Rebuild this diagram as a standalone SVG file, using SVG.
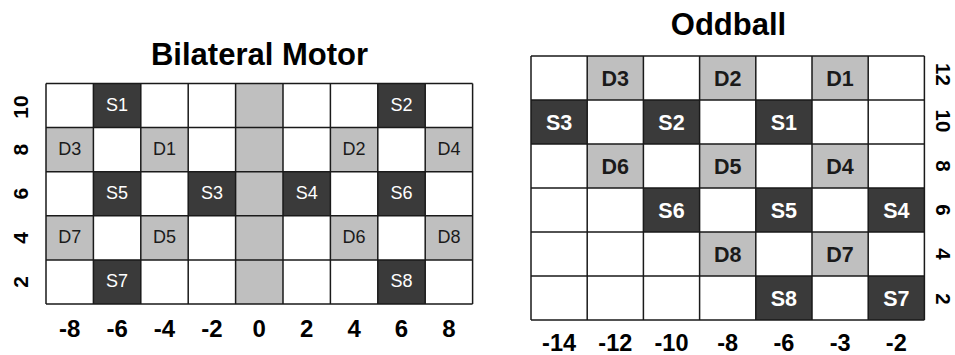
<svg xmlns="http://www.w3.org/2000/svg" width="955" height="355" viewBox="0 0 955 355">
<style>
  text { font-family: "Liberation Sans", Arial, sans-serif; text-anchor: middle; }
  .title { font-size: 31px; font-weight: bold; fill: #000; }
  .dark { fill: #3a3a3a; }
  .gray { fill: #bfbfbf; }
  .bg { fill: #ffffff; }
  .grid { fill: none; stroke: #1a1a1a; stroke-width: 1.5; }
  .bl { font-size: 18px; }
  .bl.w { fill: #ffffff; }
  .bl.k { fill: #1a1a1a; }
  .ol { font-size: 21.5px; font-weight: bold; }
  .ol.w { fill: #ffffff; }
  .ol.k { fill: #1a1a1a; }
  .axL { font-size: 21px; font-weight: bold; fill: #000; }
  .axR { font-size: 20.5px; font-weight: bold; fill: #000; }
  .axB1 { font-size: 24px; font-weight: bold; fill: #000; }
  .axB2 { font-size: 23.5px; font-weight: bold; fill: #000; }
</style>
<rect width="955" height="355" fill="#ffffff"/>

<!-- Bilateral Motor -->
<g id="bilateral">
  <text class="title" x="259.5" y="65">Bilateral Motor</text>
  <rect class="bg" x="46" y="83.5" width="426.6" height="220.5"/>
  <rect class="gray" x="235.6" y="83.5" width="47.4" height="220.5"/>
  <g id="b-S1"><rect class="dark" x="93.4" y="83.5" width="47.4" height="44.1"/><text class="bl w" x="117.1" y="110.6">S1</text></g>
  <g id="b-S2"><rect class="dark" x="377.8" y="83.5" width="47.4" height="44.1"/><text class="bl w" x="401.5" y="110.6">S2</text></g>
  <g id="b-D3"><rect class="gray" x="46" y="127.6" width="47.4" height="44.1"/><text class="bl k" x="69.7" y="154.7">D3</text></g>
  <g id="b-D1"><rect class="gray" x="140.8" y="127.6" width="47.4" height="44.1"/><text class="bl k" x="164.5" y="154.7">D1</text></g>
  <g id="b-D2"><rect class="gray" x="330.4" y="127.6" width="47.4" height="44.1"/><text class="bl k" x="354.1" y="154.7">D2</text></g>
  <g id="b-D4"><rect class="gray" x="425.2" y="127.6" width="47.4" height="44.1"/><text class="bl k" x="448.9" y="154.7">D4</text></g>
  <g id="b-S5"><rect class="dark" x="93.4" y="171.7" width="47.4" height="44.1"/><text class="bl w" x="117.1" y="198.8">S5</text></g>
  <g id="b-S3"><rect class="dark" x="188.2" y="171.7" width="47.4" height="44.1"/><text class="bl w" x="211.9" y="198.8">S3</text></g>
  <g id="b-S4"><rect class="dark" x="283" y="171.7" width="47.4" height="44.1"/><text class="bl w" x="306.7" y="198.8">S4</text></g>
  <g id="b-S6"><rect class="dark" x="377.8" y="171.7" width="47.4" height="44.1"/><text class="bl w" x="401.5" y="198.8">S6</text></g>
  <g id="b-D7"><rect class="gray" x="46" y="215.8" width="47.4" height="44.1"/><text class="bl k" x="69.7" y="242.9">D7</text></g>
  <g id="b-D5"><rect class="gray" x="140.8" y="215.8" width="47.4" height="44.1"/><text class="bl k" x="164.5" y="242.9">D5</text></g>
  <g id="b-D6"><rect class="gray" x="330.4" y="215.8" width="47.4" height="44.1"/><text class="bl k" x="354.1" y="242.9">D6</text></g>
  <g id="b-D8"><rect class="gray" x="425.2" y="215.8" width="47.4" height="44.1"/><text class="bl k" x="448.9" y="242.9">D8</text></g>
  <g id="b-S7"><rect class="dark" x="93.4" y="259.9" width="47.4" height="44.1"/><text class="bl w" x="117.1" y="287">S7</text></g>
  <g id="b-S8"><rect class="dark" x="377.8" y="259.9" width="47.4" height="44.1"/><text class="bl w" x="401.5" y="287">S8</text></g>
  <path class="grid" d="M46 83.5V304M93.4 83.5V304M140.8 83.5V304M188.2 83.5V304M235.6 83.5V304M283 83.5V304M330.4 83.5V304M377.8 83.5V304M425.2 83.5V304M472.6 83.5V304M46 83.5H472.6M46 127.6H472.6M46 171.7H472.6M46 215.8H472.6M46 259.9H472.6M46 304H472.6"/>
  <g id="b-yaxis">
    <text class="axL" transform="translate(28,107) rotate(-90)">10</text>
    <text class="axL" transform="translate(28,149.6) rotate(-90)">8</text>
    <text class="axL" transform="translate(28,193.7) rotate(-90)">6</text>
    <text class="axL" transform="translate(28,237.8) rotate(-90)">4</text>
    <text class="axL" transform="translate(28,281.9) rotate(-90)">2</text>
  </g>
  <g id="b-xaxis">
    <text class="axB1" x="69.7" y="336.5">-8</text>
    <text class="axB1" x="117.1" y="336.5">-6</text>
    <text class="axB1" x="164.5" y="336.5">-4</text>
    <text class="axB1" x="211.9" y="336.5">-2</text>
    <text class="axB1" x="259.3" y="336.5">0</text>
    <text class="axB1" x="306.7" y="336.5">2</text>
    <text class="axB1" x="354.1" y="336.5">4</text>
    <text class="axB1" x="401.5" y="336.5">6</text>
    <text class="axB1" x="448.9" y="336.5">8</text>
  </g>
</g>

<!-- Oddball -->
<g id="oddball">
  <text class="title" x="728.5" y="35">Oddball</text>
  <rect class="bg" x="531" y="56" width="393.4" height="264"/>
  <g id="o-D3"><rect class="gray" x="587.2" y="56" width="56.2" height="44"/><text class="ol k" x="615.3" y="86">D3</text></g>
  <g id="o-D2"><rect class="gray" x="699.6" y="56" width="56.2" height="44"/><text class="ol k" x="727.7" y="86">D2</text></g>
  <g id="o-D1"><rect class="gray" x="812" y="56" width="56.2" height="44"/><text class="ol k" x="840.1" y="86">D1</text></g>
  <g id="o-S3"><rect class="dark" x="531" y="100" width="56.2" height="44"/><text class="ol w" x="559.1" y="130">S3</text></g>
  <g id="o-S2"><rect class="dark" x="643.4" y="100" width="56.2" height="44"/><text class="ol w" x="671.5" y="130">S2</text></g>
  <g id="o-S1"><rect class="dark" x="755.8" y="100" width="56.2" height="44"/><text class="ol w" x="783.9" y="130">S1</text></g>
  <g id="o-D6"><rect class="gray" x="587.2" y="144" width="56.2" height="44"/><text class="ol k" x="615.3" y="174">D6</text></g>
  <g id="o-D5"><rect class="gray" x="699.6" y="144" width="56.2" height="44"/><text class="ol k" x="727.7" y="174">D5</text></g>
  <g id="o-D4"><rect class="gray" x="812" y="144" width="56.2" height="44"/><text class="ol k" x="840.1" y="174">D4</text></g>
  <g id="o-S6"><rect class="dark" x="643.4" y="188" width="56.2" height="44"/><text class="ol w" x="671.5" y="218">S6</text></g>
  <g id="o-S5"><rect class="dark" x="755.8" y="188" width="56.2" height="44"/><text class="ol w" x="783.9" y="218">S5</text></g>
  <g id="o-S4"><rect class="dark" x="868.2" y="188" width="56.2" height="44"/><text class="ol w" x="896.3" y="218">S4</text></g>
  <g id="o-D8"><rect class="gray" x="699.6" y="232" width="56.2" height="44"/><text class="ol k" x="727.7" y="262">D8</text></g>
  <g id="o-D7"><rect class="gray" x="812" y="232" width="56.2" height="44"/><text class="ol k" x="840.1" y="262">D7</text></g>
  <g id="o-S8"><rect class="dark" x="755.8" y="276" width="56.2" height="44"/><text class="ol w" x="783.9" y="306">S8</text></g>
  <g id="o-S7"><rect class="dark" x="868.2" y="276" width="56.2" height="44"/><text class="ol w" x="896.3" y="306">S7</text></g>
  <path class="grid" d="M531 56V320M587.2 56V320M643.4 56V320M699.6 56V320M755.8 56V320M812 56V320M868.2 56V320M924.4 56V320M531 56H924.4M531 100H924.4M531 144H924.4M531 188H924.4M531 232H924.4M531 276H924.4M531 320H924.4"/>
  <g id="o-yaxis">
    <text class="axR" transform="translate(936,74.5) rotate(90)">12</text>
    <text class="axR" transform="translate(936,121) rotate(90)">10</text>
    <text class="axR" transform="translate(936,166) rotate(90)">8</text>
    <text class="axR" transform="translate(936,210) rotate(90)">6</text>
    <text class="axR" transform="translate(936,254) rotate(90)">4</text>
    <text class="axR" transform="translate(936,299) rotate(90)">2</text>
  </g>
  <g id="o-xaxis">
    <text class="axB2" x="559.1" y="351">-14</text>
    <text class="axB2" x="615.3" y="351">-12</text>
    <text class="axB2" x="671.5" y="351">-10</text>
    <text class="axB2" x="727.7" y="351">-8</text>
    <text class="axB2" x="783.9" y="351">-6</text>
    <text class="axB2" x="840.1" y="351">-3</text>
    <text class="axB2" x="896.3" y="351">-2</text>
  </g>
</g>
</svg>
